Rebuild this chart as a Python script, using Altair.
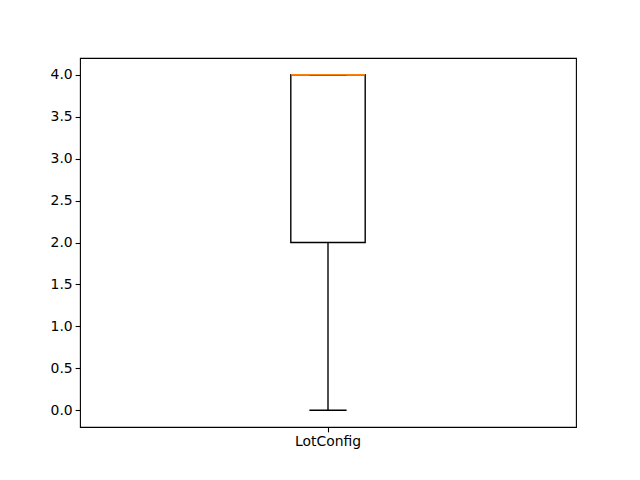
import altair as alt
import pandas as pd

categories = ["LotConfig"]
whisker_low = [0.0]
q1 = [2.0]
median = [4.0]
q3 = [4.0]
whisker_high = [4.0]

df = pd.DataFrame({
    "cat": categories,
    "wlo": whisker_low,
    "q1": q1,
    "med": median,
    "q3": q3,
    "whi": whisker_high,
})

FONT = "DejaVu Sans"
LW = 1.39
BOXW = 74.4

xenc = alt.X("cat:N", title=None,
             scale=alt.Scale(paddingInner=0, paddingOuter=0),
             axis=alt.Axis(labelAngle=0, labelFont=FONT, labelFontSize=13.9,
                           labelColor="black", tickColor="black", tickSize=4.86,
                           tickWidth=1.1, labelPadding=3, domain=False, grid=False))
yscale = alt.Scale(domain=[-0.2, 4.2], nice=False, zero=False)
yenc = alt.Y("q1:Q", title=None, scale=yscale,
             axis=alt.Axis(values=[0, 0.5, 1, 1.5, 2, 2.5, 3, 3.5, 4], format=".1f",
                           labelFont=FONT, labelFontSize=13.9, labelColor="black",
                           tickColor="black", tickSize=4.86, tickWidth=1.1,
                           labelPadding=3, domain=False, grid=False))

base = alt.Chart(df)

whisk_lo = base.mark_rule(color="black", strokeWidth=LW).encode(
    x=xenc, y=alt.Y("wlo:Q", scale=yscale), y2="q1:Q")
whisk_hi = base.mark_rule(color="black", strokeWidth=LW).encode(
    x=xenc, y=alt.Y("q3:Q", scale=yscale), y2="whi:Q")
box = base.mark_bar(size=BOXW, fill="white", fillOpacity=0, stroke="black",
                    strokeWidth=LW).encode(x=xenc, y=yenc, y2="q3:Q")
cap_lo = base.mark_tick(size=BOXW / 2, thickness=LW, color="black", opacity=1).encode(
    x=xenc, y=alt.Y("wlo:Q", scale=yscale))
cap_hi = base.mark_tick(size=BOXW / 2, thickness=LW, color="black", opacity=1).encode(
    x=xenc, y=alt.Y("whi:Q", scale=yscale))
med = base.mark_tick(size=BOXW, thickness=LW, color="#ff7f0e", opacity=1).encode(
    x=xenc, y=alt.Y("med:Q", scale=yscale))

chart = alt.layer(box, whisk_lo, whisk_hi, cap_lo, cap_hi, med).properties(
    width=496, height=369,
    autosize=alt.AutoSizeParams(type="none"),
    padding={"left": 80, "top": 58, "right": 64, "bottom": 53},
    background="white",
).configure_view(stroke="black", strokeWidth=1.1)

chart.save("out.html", embed_options={"renderer": "svg", "actions": False})
